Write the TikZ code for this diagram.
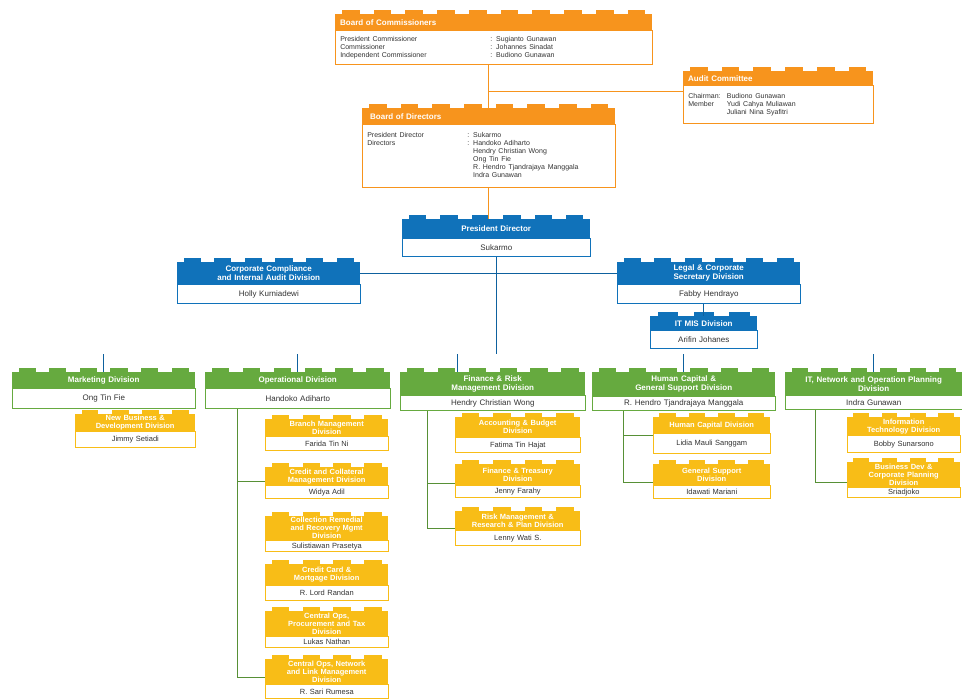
\documentclass[tikz,border=0pt]{standalone}
\usepackage{fontspec}
\setmainfont{Liberation Sans}
\usepackage{tikz}
\usetikzlibrary{calc}

\definecolor{corange}{HTML}{F7941D}
\definecolor{cblue}{HTML}{1072BA}
\definecolor{cgreen}{HTML}{66AA3F}
\definecolor{cyellow}{HTML}{F8BD17}

\newcommand{\smalltxt}{\fontsize{7}{8}\selectfont}

\tikzset{
  hdr/.style={fill=#1, text=white, font=\fontsize{8}{9}\selectfont, execute at begin node=\bfseries,
    align=center, inner xsep=0pt, inner ysep=1pt, anchor=north west},
  bdy/.style={draw=#1, fill=white, text=black!80, font=\fontsize{8}{9}\selectfont, line width=0.6pt,
    align=center, inner xsep=0pt, inner ysep=1pt, anchor=north west},
  kid/.style={font=\fontsize{7.5}{8}\selectfont},
  oline/.style={draw=corange, line width=0.8pt},
  bline/.style={draw=cblue!85!black, line width=0.8pt},
  gline/.style={draw=cgreen!85!black, line width=0.8pt},
}

% [options] name, colour, top left, width, header height, body height, title, body
\newcommand{\orgunit}[9][]{%
  \node[hdr=#3, text width=#5pt, minimum height=#6pt, #1] (#2) at (#4) {#8};
  \node[bdy=#3, text width=#5pt, minimum height=#7pt, #1] (#2b) at (#2.south west) {#9};
  \pgfmathtruncatemacro{\nb}{max(3,round(#5/31))}
  \foreach \k in {1,...,\nb}
    \fill[#3] ($(#2.north west)!{(\k-0.78)/\nb}!(#2.north east)$) rectangle ($(#2.north west)!{(\k-0.22)/\nb}!(#2.north east)+(0,-4)$);
}

\begin{document}
\begin{tikzpicture}[x=1pt,y=-1pt]
\useasboundingbox (0,0) rectangle (962,700);

\orgunit[align=left]{boc}{corange}{335,14}{317}{16}{34}{\hspace*{5pt}Board of Commissioners}%
  {\smalltxt\begin{tabular}{@{\hspace{5pt}}p{150pt}@{}l}
   President Commissioner & : Sugianto Gunawan\\
   Commissioner & : Johannes Sinadat\\
   Independent Commissioner & : Budiono Gunawan
   \end{tabular}}
\orgunit[align=left]{aud}{corange}{683,71}{190}{14}{38}{\hspace*{5pt}Audit Committee}%
  {\smalltxt\begin{tabular}{@{\hspace{5pt}}p{30pt}@{}l}
   Chairman & : \ Budiono Gunawan\\
   Member & \phantom{: \ }Yudi Cahya Muliawan\\
   & \phantom{: \ }Juliani Nina Syafitri
   \end{tabular}}
\orgunit[align=left]{bod}{corange}{362,108}{253}{16}{63}{\hspace*{8pt}Board of Directors}%
  {\smalltxt\begin{tabular}{@{\hspace{5pt}}p{100pt}@{}l}
   President Director & : Sukarmo\\
   Directors & : Handoko Adiharto\\
   & \phantom{: }Hendry Christian Wong\\
   & \phantom{: }Ong Tin Fie\\
   & \phantom{: }R. Hendro Tjandrajaya Manggala\\
   & \phantom{: }Indra Gunawan
   \end{tabular}}

\orgunit{pres}{cblue}{402,219}{188}{19}{18}{President Director}{Sukarmo}
\orgunit{ccia}{cblue}{177,262}{183}{22}{19}{Corporate Compliance\\and Internal Audit Division}{Holly Kurniadewi}
\orgunit{legal}{cblue}{617,262}{183}{22}{19}{Legal \& Corporate\\Secretary Division}{Fabby Hendrayo}
\orgunit{itmis}{cblue}{650,316}{107}{14}{18}{IT MIS Division}{Arifin Johanes}

\orgunit{mkt}{cgreen}{12,372}{183}{16}{20}{Marketing Division}{Ong Tin Fie}
\orgunit{ops}{cgreen}{205,372}{185}{16}{20}{Operational Division}{Handoko Adiharto}
\orgunit{fin}{cgreen}{400,372}{185}{23}{15}{Finance \& Risk\\Management Division}{Hendry Christian Wong}
\orgunit{hcs}{cgreen}{592,372}{183}{24}{14}{Human Capital \&\\General Support Division}{R. Hendro Tjandrajaya Manggala}
\orgunit{itn}{cgreen}{785,372}{177}{23}{14}{IT, Network and Operation Planning\\Division}{Indra Gunawan}

\orgunit[kid]{mkt1}{cyellow}{75,414}{120}{17}{16}{New Business \&\\Development Division}{Jimmy Setiadi}

\orgunit[kid]{o1}{cyellow}{265,419}{123}{17}{14}{Branch Management\\Division}{Farida Tin Ni}
\orgunit[kid]{o2}{cyellow}{265,467}{123}{18}{13}{Credit and Collateral\\Management Division}{Widya Adil}
\orgunit[kid]{o3}{cyellow}{265,516}{123}{24}{11}{Collection Remedial\\and Recovery Mgmt\\Division}{Sulistiawan Prasetya}
\orgunit[kid]{o4}{cyellow}{265,564}{123}{21}{15}{Credit Card \&\\Mortgage Division}{R. Lord Randan}
\orgunit[kid]{o5}{cyellow}{265,611}{123}{25}{11}{Central Ops,\\Procurement and Tax\\Division}{Lukas Nathan}
\orgunit[kid]{o6}{cyellow}{265,659}{123}{25}{14}{Central Ops, Network\\and Link Management\\Division}{R. Sari Rumesa}

\orgunit[kid]{f1}{cyellow}{455,417}{125}{20}{15}{Accounting \& Budget\\Division}{Fatima Tin Hajat}
\orgunit[kid]{f2}{cyellow}{455,464}{125}{21}{12}{Finance \& Treasury\\Division}{Jenny Farahy}
\orgunit[kid]{f3}{cyellow}{455,511}{125}{19}{15}{Risk Management \&\\Research \& Plan Division}{Lenny Wati S.}

\orgunit[kid]{h1}{cyellow}{653,417}{117}{16}{20}{Human Capital Division}{Lidia Mauli Sanggam}
\orgunit[kid]{h2}{cyellow}{653,464}{117}{21}{13}{General Support\\Division}{Idawati Mariani}

\orgunit[kid]{i1}{cyellow}{847,417}{113}{18}{17}{Information\\Technology Division}{Bobby Sunarsono}
\orgunit[kid]{i2}{cyellow}{847,462}{113}{25}{10}{Business Dev \&\\Corporate Planning\\Division}{Sriadjoko}

\draw[oline] (bod.north) -- (bod.north |- bocb.south);
\coordinate (audj) at ([yshift=-6pt]audb.north west);
\draw[oline] (audj) -- (audj -| bod.north);
\draw[oline] (bodb.south) -- (bodb.south |- pres.north);

\draw[bline] (ccia.east) -- (legal.west);
\coordinate (tend) at ([yshift=-97pt]presb.south);
\draw[bline] (presb.south) -- (tend);
\draw[bline] (legalb.south -| itmis.north) -- (itmis.north);
\foreach \n in {mkt,ops,hcs,itn}
  \draw[bline] (\n.north) -- ++(0,-18);
\draw[bline] ([xshift=-35pt]fin.north) -- ++(0,-18);

\coordinate (opst) at ([xshift=-60pt]opsb.south);
\draw[gline] (opst) |- ([yshift=4pt]o2b.north west);
\draw[gline] (opst) |- ([yshift=7pt]o6b.north west);
\coordinate (fint) at ([xshift=-65pt]finb.south);
\draw[gline] (fint) |- ([yshift=2pt]f2b.north west);
\draw[gline] (fint) |- ([yshift=2pt]f3b.north west);
\coordinate (hcst) at ([xshift=-60.5pt]hcsb.south);
\draw[gline] (hcst) |- ([yshift=-2pt]h1b.north west);
\draw[gline] (hcst) |- ([yshift=3pt]h2b.north west);
\coordinate (itnt) at ([xshift=-58.5pt]itnb.south);
\draw[gline] (itnt) |- ([yshift=5pt]i2b.north west);
\end{tikzpicture}
\end{document}
